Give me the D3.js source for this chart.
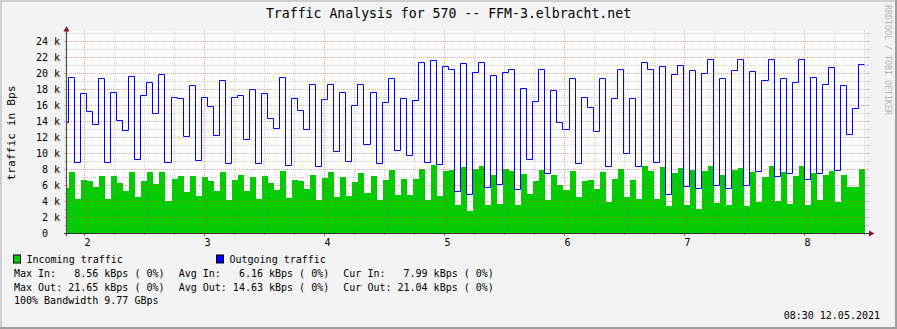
<!DOCTYPE html>
<html>
<head>
<meta charset="utf-8">
<script src="https://cdn.jsdelivr.net/npm/d3@7"></script>
<style>
  html, body { margin: 0; padding: 0; background: #f3f3f3; }
  svg text { font-family: "DejaVu Sans Mono", monospace; white-space: pre; }
</style>
</head>
<body>
<div id="graph"></div>
<script>
// traffic samples in kBps, oldest first
let incoming = [
  5.6, 7.6, 4.25, 6.6, 6.5, 5.75, 7.1, 4.25, 7.1, 6.25, 5.25, 7.6, 4.5, 6.5, 7.6, 6.1,
  7.6, 4.0, 6.75, 7.1, 5.1, 7.1, 4.6, 7.0, 6.5, 5.25, 7.6, 4.1, 6.6, 7.25, 5.25, 7.0,
  4.25, 7.1, 6.25, 5.4, 7.75, 4.4, 6.6, 6.5, 5.5, 7.25, 4.1, 6.9, 7.6, 4.5, 7.0,
  4.6, 6.4, 7.5, 5.0, 7.1, 4.1, 6.6, 7.9, 4.75, 6.75, 4.75, 6.75, 8.0, 4.1, 8.56, 4.6,
  7.75, 7.9, 3.5, 8.25, 2.75, 8.0, 8.4, 3.5, 7.25, 3.6, 8.0, 7.75, 3.5, 7.4, 4.9, 6.5,
  7.9, 4.1, 7.25, 6.0, 5.4, 7.75, 4.5, 6.5, 6.6, 5.5, 7.6, 3.9,
  6.75, 8.0, 4.5, 6.6, 4.25, 8.4, 7.75, 4.25, 8.25, 3.4, 7.5, 8.1, 3.5, 7.9, 3.0, 7.75,
  8.4, 3.75, 7.25, 3.5, 7.9, 8.1, 3.4, 7.6, 3.9, 7.0, 8.4, 4.0, 7.6, 3.6, 7.1, 8.4,
  3.5, 7.5, 4.1, 7.25, 7.75, 3.9, 7.25, 5.75, 5.75, 7.99
];
let outgoing = [
  13.7, 19.33, 8.7, 17.33, 15.1, 13.46, 19.2, 8.7, 17.46, 13.96, 12.7, 19.46, 9.08, 17.08,
  18.7, 14.83, 19.7, 8.7, 16.9, 16.7, 11.96, 18.33, 8.96, 16.9, 15.7, 12.08, 18.96, 8.58,
  16.83, 17.08, 11.58, 17.83, 8.58, 17.33, 14.2, 12.96, 19.33, 8.33, 16.7, 15.2, 12.83,
  18.46, 8.2, 16.58, 18.46, 10.08, 17.46,
  8.83, 15.83, 18.46, 10.96, 17.46, 8.58, 16.2, 19.2, 10.2, 16.7, 9.58, 16.46, 21.2, 8.7,
  21.46, 8.46, 20.7, 20.33, 5.08, 21.08, 4.7, 19.96, 21.2, 5.58, 19.58, 5.96, 19.96, 20.33,
  5.33, 17.96, 9.08, 16.33, 20.33, 7.33, 17.7, 13.7, 12.83, 19.2, 8.58, 16.83, 15.58, 12.58,
  19.2, 8.2,
  16.7, 20.33, 9.83, 16.7, 8.2, 21.2, 20.33, 8.7, 20.7, 4.7, 19.7, 20.83, 5.7, 20.2, 5.46,
  19.83, 21.65, 5.83, 19.2, 5.46, 20.2, 21.58, 5.83, 20.08, 7.58, 18.96, 21.58, 6.96, 19.2,
  7.33, 18.7, 21.58, 6.58, 19.33, 7.33, 18.46, 20.58, 7.7, 18.33, 12.2, 15.46, 21.04
];
let dayLabels = [2, 3, 4, 5, 6, 7, 8];
let yLabels = [0, 2, 4, 6, 8, 10, 12, 14, 16, 18, 20, 22, 24];
let legendItems = ["Incoming traffic", "Outgoing traffic"];
let statsIn = ["Max In:   8.56 kBps ( 0%)", "Avg In:   6.16 kBps ( 0%)", "Cur In:   7.99 kBps ( 0%)"];
let statsOut = ["Max Out: 21.65 kBps ( 0%)", "Avg Out: 14.63 kBps ( 0%)", "Cur Out: 21.04 kBps ( 0%)"];
let bandwidth = "100% Bandwidth 9.77 GBps";
let stamp = "08:30 12.05.2021";
let title = "Traffic Analysis for 570 -- FFM-3.elbracht.net";

// sample timing in days (day of month)
let t0 = 1.820581, step = 0.0502525;

let W = 897, H = 329;
let plot = { left: 67, right: 866, top: 33, bottom: 233 };
let inColor = "#00cc00", outColor = "#0000ff";
let gridMinor = "rgba(143,143,143,0.45)", gridMajor = "rgba(222,80,80,0.5)";

let xScale = d3.scaleLinear()
  .domain([2 - (84.5 - plot.left) / 120, 2 + (plot.right - 84.5) / 120])
  .range([plot.left, plot.right]);
let yScale = d3.scaleLinear().domain([0, 25]).range([plot.bottom, plot.top]);

let svg = d3.select("#graph").append("svg")
  .attr("width", W).attr("height", H);

// background + shaded frame
svg.append("rect").attr("width", W).attr("height", H).attr("fill", "#f3f3f3");
svg.append("rect").attr("width", W).attr("height", 2).attr("fill", "#cfcfcf");
svg.append("rect").attr("width", 2).attr("height", H).attr("fill", "#cfcfcf");
svg.append("rect").attr("y", H - 2).attr("width", W).attr("height", 2).attr("fill", "#9e9e9e");
svg.append("rect").attr("x", W - 2).attr("width", 2).attr("height", H).attr("fill", "#9e9e9e");

svg.append("rect")
  .attr("x", plot.left).attr("y", 31)
  .attr("width", plot.right - plot.left + 1).attr("height", plot.bottom - 31)
  .attr("fill", "#ffffff");

svg.append("clipPath").attr("id", "clip")
  .append("rect")
  .attr("x", plot.left).attr("y", 31)
  .attr("width", plot.right - plot.left).attr("height", plot.bottom - 31);

// samples -> step points
function toSteps(values) {
  let pts = values.map((v, i) => ({ t: t0 + i * step, v: v }));
  pts.push({ t: t0 + values.length * step, v: values[values.length - 1] });
  return pts;
}
// snap to device pixels
let px = t => Math.round(xScale(t));
let py = v => Math.round(yScale(v));

let dataG = svg.append("g").attr("clip-path", "url(#clip)");

dataG.append("path")
  .datum(toSteps(incoming))
  .attr("fill", inColor)
  .attr("d", d3.area()
    .x(d => px(d.t))
    .y0(yScale(0))
    .y1(d => py(d.v))
    .curve(d3.curveStepAfter));

// grid on top of the area, like rrdtool
let gridG = svg.append("g").attr("shape-rendering", "crispEdges");

yScale.ticks(25).filter(k => k > 0).forEach(function (k) {
  let y = yScale(k) + 0.5;
  let col = (k % 2 === 0) ? gridMajor : gridMinor;
  gridG.append("line")
    .attr("x1", plot.left).attr("x2", plot.right)
    .attr("y1", y).attr("y2", y)
    .attr("stroke", col).attr("stroke-dasharray", "1,1");
  gridG.append("line")
    .attr("x1", plot.left - 3).attr("x2", plot.left)
    .attr("y1", y).attr("y2", y).attr("stroke", col);
  gridG.append("line")
    .attr("x1", plot.right).attr("x2", plot.right + 3)
    .attr("y1", y).attr("y2", y).attr("stroke", col);
});

let quarters = d3.range(Math.ceil(xScale.domain()[0] * 4), Math.floor(xScale.domain()[1] * 4) + 1);
quarters.forEach(function (q) {
  let day = q / 4;
  let x = xScale(day);
  let major = (q % 4 === 0);
  let col = major ? gridMajor : gridMinor;
  gridG.append("line")
    .attr("x1", x).attr("x2", x)
    .attr("y1", 31).attr("y2", plot.bottom)
    .attr("stroke", col).attr("stroke-dasharray", "1,1");
  gridG.append("line")
    .attr("x1", x).attr("x2", x)
    .attr("y1", plot.bottom).attr("y2", plot.bottom + (major ? 3 : 2))
    .attr("stroke", major ? "rgba(150,40,40,0.8)" : "rgba(110,110,110,0.7)");
});

// outgoing line above the grid
svg.append("g").attr("clip-path", "url(#clip)")
  .append("path")
  .datum(toSteps(outgoing))
  .attr("fill", "none")
  .attr("stroke", outColor)
  .attr("stroke-width", 1)
  .attr("d", d3.line()
    .x(d => px(d.t) - 0.5)
    .y(d => py(d.v) - 0.5)
    .curve(d3.curveStepAfter));

// axes
let axisColor = "#505050", arrowColor = "#7f1f1f";
svg.append("line")
  .attr("x1", plot.left - 0.5).attr("x2", plot.left - 0.5)
  .attr("y1", plot.bottom + 3).attr("y2", 29)
  .attr("stroke", axisColor).attr("stroke-width", 1.2);
svg.append("line")
  .attr("x1", plot.left - 3).attr("x2", plot.right + 4)
  .attr("y1", plot.bottom + 0.5).attr("y2", plot.bottom + 0.5)
  .attr("stroke", "#303030").attr("stroke-width", 1.2);
svg.append("path")
  .attr("d", `M${plot.left - 3.5},31.5L${plot.left + 2.5},31.5L${plot.left - 0.5},26Z`)
  .attr("fill", arrowColor);
svg.append("path")
  .attr("d", `M${plot.right + 3},${plot.bottom - 2.5}L${plot.right + 3},${plot.bottom + 3.5}L${plot.right + 8.5},${plot.bottom + 0.5}Z`)
  .attr("fill", arrowColor);

// y tick labels
svg.append("g").selectAll("text")
  .data(yLabels)
  .enter().append("text")
  .attr("x", 60)
  .attr("y", d => yScale(d) + 4)
  .attr("text-anchor", "end")
  .style("font-size", "10px")
  .attr("fill", "#000")
  .text(d => d === 0 ? "0  " : `${d} k`);

// x tick labels
svg.append("g").selectAll("text")
  .data(dayLabels)
  .enter().append("text")
  .attr("x", d => xScale(d) + 3)
  .attr("y", 246)
  .attr("text-anchor", "middle")
  .style("font-size", "10px")
  .attr("fill", "#000")
  .text(d => d);

// title and axis title
svg.append("text")
  .attr("x", 448.5).attr("y", 18.3)
  .attr("text-anchor", "middle")
  .style("font-size", "13.2px")
  .text(title);

svg.append("text")
  .attr("transform", `translate(15.3, ${(plot.top + plot.bottom) / 2}) rotate(-90)`)
  .attr("text-anchor", "middle")
  .style("font-size", "11.3px")
  .text("traffic in Bps");

svg.append("text")
  .attr("transform", "translate(885, 5) rotate(90)")
  .attr("text-anchor", "start")
  .style("font-size", "8.3px")
  .attr("fill", "#b4b4b4")
  .text("RRDTOOL / TOBI OETIKER");

// legend
let legendX = [13.5, 216.5];
let legendColors = [inColor, outColor];
legendItems.forEach(function (name, i) {
  svg.append("rect")
    .attr("x", legendX[i]).attr("y", 255)
    .attr("width", 7).attr("height", 8)
    .attr("fill", legendColors[i]).attr("stroke", "#000").attr("stroke-width", 1);
  svg.append("text")
    .attr("x", legendX[i] + 13).attr("y", 262.5)
    .style("font-size", "10px")
    .text(name);
});

let colX = [14, 178.7, 343.3];
statsIn.forEach(function (s, i) {
  svg.append("text").attr("x", colX[i]).attr("y", 276.5)
    .style("font-size", "10px").text(s);
});
statsOut.forEach(function (s, i) {
  svg.append("text").attr("x", colX[i]).attr("y", 290.5)
    .style("font-size", "10px").text(s);
});
svg.append("text").attr("x", 14).attr("y", 304.3)
  .style("font-size", "10px").text(bandwidth);

svg.append("text").attr("x", 880).attr("y", 319)
  .attr("text-anchor", "end")
  .style("font-size", "10px").text(stamp);
</script>
</body>
</html>
